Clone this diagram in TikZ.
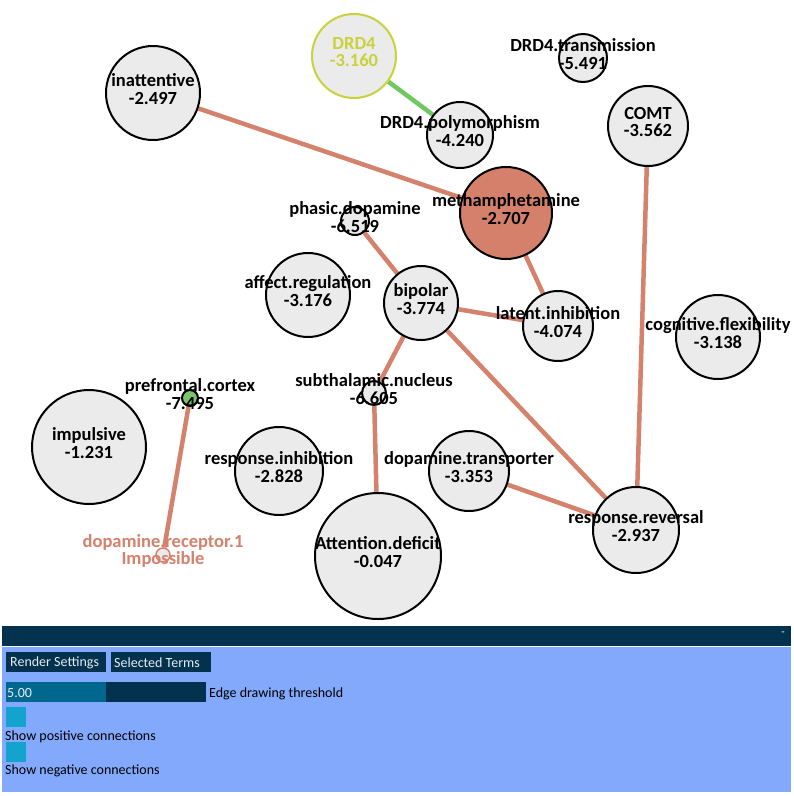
\documentclass[tikz,border=0pt]{standalone}
\usepackage{fontspec}
\setmainfont{Carlito}
\definecolor{nodegray}{HTML}{EBEBEB}
\definecolor{edgesal}{HTML}{D4826C}
\definecolor{methsal}{HTML}{D4806A}
\definecolor{drdyel}{HTML}{C9D13B}
\definecolor{posgreen}{HTML}{70C860}
\definecolor{pfcgreen}{HTML}{7CC46C}
\definecolor{panelnavy}{HTML}{03324E}
\definecolor{panelblue}{HTML}{82A9FB}
\definecolor{panelteal}{HTML}{00678F}
\definecolor{panelcyan}{HTML}{14A3CD}
\definecolor{btntext}{HTML}{E6ECF2}
\pgfdeclarelayer{edgelayer}
\pgfsetlayers{edgelayer,main}
\begin{document}
\begin{tikzpicture}[x=1pt,y=-1pt,
  term/.style={circle,draw=black,line width=2pt,fill=nodegray,inner sep=0pt},
  lbl/.style={font=\bfseries\fontsize{18.5}{17.5}\selectfont,align=center,inner sep=0pt},
  link/.style={line width=4.5pt,draw=edgesal},
  ptext/.style={font=\fontsize{14}{15}\selectfont,inner sep=0pt,anchor=west},
  btn/.style={fill=panelnavy},
]
\useasboundingbox (0,0) rectangle (794,796);
% nodes (circles)
\node[term,minimum size=94pt] (inatt) at (153,93) {};
\node[term,draw=drdyel,minimum size=84pt] (drd4) at (354,56) {};
\node[term,minimum size=66pt] (poly) at (460,135) {};
\node[term,minimum size=48pt] (trans) at (583,58) {};
\node[term,fill=methsal,minimum size=92pt] (meth) at (506,213) {};
\node[term,minimum size=28pt] (phasic) at (355,221) {};
\node[term,minimum size=84pt] (affect) at (308,295) {};
\node[term,minimum size=74pt] (bipolar) at (421,303) {};
\node[term,minimum size=70pt] (latent) at (558,326) {};
\node[term,minimum size=24pt] (subth) at (374,393) {};
\node[term,minimum size=80pt] (comt) at (648,126) {};
\node[term,minimum size=84pt] (cogflex) at (718,337) {};
\node[term,fill=pfcgreen,minimum size=16pt] (pfc) at (190,398) {};
\node[term,minimum size=114pt] (impuls) at (89,447) {};
\node[term,minimum size=88pt] (respinh) at (279,471) {};
\node[term,draw=edgesal,line width=1.5pt,minimum size=14pt] (dr1) at (163,555) {};
\node[term,minimum size=126pt] (attdef) at (378,556) {};
\node[term,minimum size=80pt] (dat) at (469,471) {};
\node[term,minimum size=86pt] (resprev) at (636,530) {};
% labels
\node[lbl] (Linatt) at ([yshift=4pt]inatt.center) {inattentive\\-2.497};
\node[lbl,text=drdyel] (Ldrd4) at ([yshift=4pt]drd4.center) {DRD4\\-3.160};
\node[lbl] (Lpoly) at ([yshift=4pt]poly.center) {DRD4.polymorphism\\-4.240};
\node[lbl] (Ltrans) at ([yshift=4pt]trans.center) {DRD4.transmission\\-5.491};
\node[lbl] (Lmeth) at ([yshift=4pt]meth.center) {methamphetamine\\-2.707};
\node[lbl] (Lphasic) at ([yshift=4pt]phasic.center) {phasic.dopamine\\-6.519};
\node[lbl] (Laffect) at ([yshift=4pt]affect.center) {affect.regulation\\-3.176};
\node[lbl] (Lbipolar) at ([yshift=4pt]bipolar.center) {bipolar\\-3.774};
\node[lbl] (Llatent) at ([yshift=4pt]latent.center) {latent.inhibition\\-4.074};
\node[lbl] (Lsubth) at ([yshift=4pt]subth.center) {subthalamic.nucleus\\-6.605};
\node[lbl] (Lcomt) at ([yshift=4pt]comt.center) {COMT\\-3.562};
\node[lbl] (Lcogflex) at ([yshift=4pt]cogflex.center) {cognitive.flexibility\\-3.138};
\node[lbl] (Lpfc) at ([yshift=4pt]pfc.center) {prefrontal.cortex\\-7.495};
\node[lbl] (Limpuls) at ([yshift=4pt]impuls.center) {impulsive\\-1.231};
\node[lbl] (Lrespinh) at ([yshift=4pt]respinh.center) {response.inhibition\\-2.828};
\node[lbl,text=edgesal] (Ldr1) at ([yshift=4pt]dr1.center) {dopamine.receptor.1\\Impossible};
\node[lbl] (Lattdef) at ([yshift=4pt]attdef.center) {Attention.deficit\\-0.047};
\node[lbl] (Ldat) at ([yshift=4pt]dat.center) {dopamine.transporter\\-3.353};
\node[lbl] (Lresprev) at ([yshift=4pt]resprev.center) {response.reversal\\-2.937};
% edges
\begin{pgfonlayer}{edgelayer}
\fill[white] (0,0) rectangle (794,796);
\draw[link] (inatt) -- (meth);
\draw[link,draw=posgreen] (drd4) -- (poly);
\draw[link] (meth) -- (latent);
\draw[link] (phasic) -- (bipolar);
\draw[link] (bipolar) -- (latent);
\draw[link] (bipolar) -- (subth);
\draw[link] (bipolar) -- (resprev);
\draw[link] (subth) -- (attdef);
\draw[link] (comt) -- (resprev);
\draw[link] (dat) -- (resprev);
\draw[link] (pfc) -- (dr1);
\end{pgfonlayer}
% panel
\fill[panelnavy] (2,626) rectangle (791,646);
\fill[panelblue] (2,647) rectangle (791,792);
\node[font=\fontsize{11}{12}\selectfont,text=white,inner sep=0pt] (collapse) at (783,634) {-};
\fill[btn] (6,652) rectangle (106,672);
\fill[btn] (111,652) rectangle (211,672);
\node[ptext,text=btntext] (bRender) at (10,663) {Render Settings};
\node[ptext,text=btntext] (bSel) at (114,663) {Selected Terms};
\fill[panelteal] (6,682) rectangle (106,702);
\fill[panelnavy] (106,682) rectangle (206,702);
\node[ptext,text=btntext] (sVal) at (7,693) {5.00};
\node[ptext] (sLbl) at (209,694) {Edge drawing threshold};
\fill[panelcyan] (6,707) rectangle (26,727);
\node[ptext] (cPos) at (5,737) {Show positive connections};
\fill[panelcyan] (6,742) rectangle (26,762);
\node[ptext] (cNeg) at (5,771) {Show negative connections};
\end{tikzpicture}
\end{document}
